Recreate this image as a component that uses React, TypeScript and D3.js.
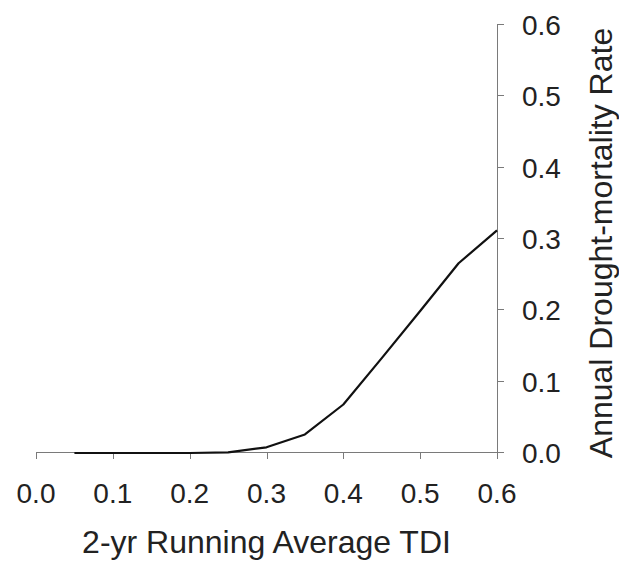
import React, { useEffect, useRef } from "react";
import * as d3 from "d3";

const tdi = [0.05, 0.1, 0.15, 0.2, 0.25, 0.3, 0.35, 0.4, 0.45, 0.5, 0.55, 0.6];
const mortality = [0, 0, 0, 0, 0.001, 0.008, 0.026, 0.068, 0.133, 0.199, 0.266, 0.312];
const xTicks = [0, 0.1, 0.2, 0.3, 0.4, 0.5, 0.6];
const yTicks = [0, 0.1, 0.2, 0.3, 0.4, 0.5, 0.6];

const App = () => {
  const ref = useRef<SVGSVGElement>(null);

  useEffect(() => {
    const svg = d3.select(ref.current);
    svg.selectAll("*").remove();
    const width = 619;
    const height = 563;
    const axisColor = "#7a7a7a";
    const font = "'Liberation Sans', Arial, sans-serif";

    const x = d3.scaleLinear().domain([0, 0.6]).range([36, 497]);
    const y = d3.scaleLinear().domain([0, 0.6]).range([453, 25]);

    svg.attr("width", width).attr("height", height);
    svg.append("rect").attr("width", width).attr("height", height).attr("fill", "#fff");

    // x axis
    const gx = svg.append("g");
    gx.append("line")
      .attr("x1", x(0)).attr("x2", x(0.6))
      .attr("y1", y(0) - 0.5).attr("y2", y(0) - 0.5)
      .attr("stroke", axisColor);
    gx.selectAll(".xt")
      .data(xTicks)
      .enter()
      .append("line")
      .attr("x1", (d) => Math.round(x(d)) + 0.5)
      .attr("x2", (d) => Math.round(x(d)) + 0.5)
      .attr("y1", y(0))
      .attr("y2", y(0) + 6)
      .attr("stroke", axisColor);
    gx.selectAll(".xl")
      .data(xTicks)
      .enter()
      .append("text")
      .attr("x", (d) => x(d))
      .attr("y", 503)
      .attr("text-anchor", "middle")
      .attr("font-family", font)
      .attr("font-size", 28)
      .attr("fill", "#222")
      .text((d) => d.toFixed(1));
    svg.append("text")
      .attr("x", (x(0) + x(0.6)) / 2)
      .attr("y", 553)
      .attr("text-anchor", "middle")
      .attr("font-family", font)
      .attr("font-size", 32)
      .attr("fill", "#222")
      .text("2-yr Running Average TDI");

    // y axis on the right
    const gy = svg.append("g");
    gy.append("line")
      .attr("x1", x(0.6) + 0.5).attr("x2", x(0.6) + 0.5)
      .attr("y1", y(0.6)).attr("y2", y(0))
      .attr("stroke", axisColor);
    gy.selectAll(".yt")
      .data(yTicks)
      .enter()
      .append("line")
      .attr("x1", x(0.6))
      .attr("x2", x(0.6) + 7)
      .attr("y1", (d) => Math.round(y(d)) - 0.5)
      .attr("y2", (d) => Math.round(y(d)) - 0.5)
      .attr("stroke", axisColor);
    gy.selectAll(".yl")
      .data(yTicks)
      .enter()
      .append("text")
      .attr("x", 522)
      .attr("y", (d) => y(d) + 10)
      .attr("font-family", font)
      .attr("font-size", 28)
      .attr("fill", "#222")
      .text((d) => d.toFixed(1));
    svg.append("text")
      .attr("transform", `translate(612,${(28 + 458) / 2}) rotate(-90)`)
      .attr("text-anchor", "middle")
      .attr("font-family", font)
      .attr("font-size", 32)
      .attr("fill", "#222")
      .text("Annual Drought-mortality Rate");

    const line = d3
      .line<number>()
      .x((d, i) => x(tdi[i]))
      .y((d) => y(d));

    svg.append("path")
      .datum(mortality)
      .attr("d", line)
      .attr("fill", "none")
      .attr("stroke", "#111")
      .attr("stroke-width", 2.2)
      .attr("stroke-linejoin", "round");
  }, []);

  return (
    <svg
      ref={ref}
      width={619}
      height={563}
      style={{ position: "absolute", left: 0, top: 0 }}
    ></svg>
  );
};

export default App;
